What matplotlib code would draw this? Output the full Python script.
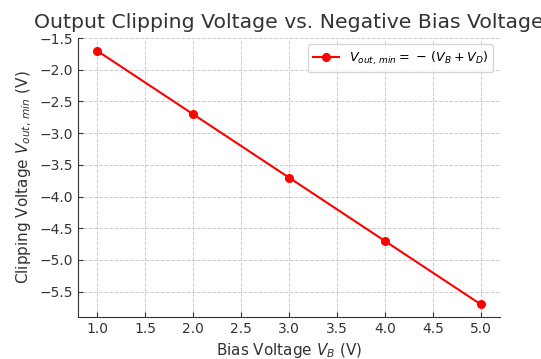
import matplotlib
matplotlib.use("Agg")
import matplotlib.pyplot as plt

# bias voltage and clipping level (diode drop 0.7 V)
bias_v = [1.0, 2.0, 3.0, 4.0, 5.0]
clip_v = [-1.7, -2.7, -3.7, -4.7, -5.7]

plt.rcParams['font.family'] = ['DejaVu Sans']

fig, ax = plt.subplots(figsize=(5.41, 3.59), dpi=100)
fig.subplots_adjust(left=0.144, right=0.924, top=0.894, bottom=0.117)

ax.plot(bias_v, clip_v, color='red', marker='o', markersize=5.5, linewidth=1.5,
        label=r'$V_{out,\,min} = \,-\,(V_B + V_D)$')

ax.set_title('Output Clipping Voltage vs. Negative Bias Voltage', fontsize=14.7,
             color='#333333', pad=7)
ax.set_xlabel(r'Bias Voltage $V_B$ (V)', fontsize=11, color='#333333')
ax.set_ylabel(r'Clipping Voltage $V_{out,\,min}$ (V)', fontsize=11, color='#333333')

ax.grid(True, linestyle='--', color='#cccccc', linewidth=0.7)
ax.tick_params(direction='in', labelsize=10, colors='#333333')
ax.spines['top'].set_visible(False)
ax.spines['right'].set_visible(False)
ax.spines['left'].set_color('#333333')
ax.spines['bottom'].set_color('#333333')

ax.legend(loc='upper right', fontsize=9.2)

fig.savefig('out.png', dpi=100)
